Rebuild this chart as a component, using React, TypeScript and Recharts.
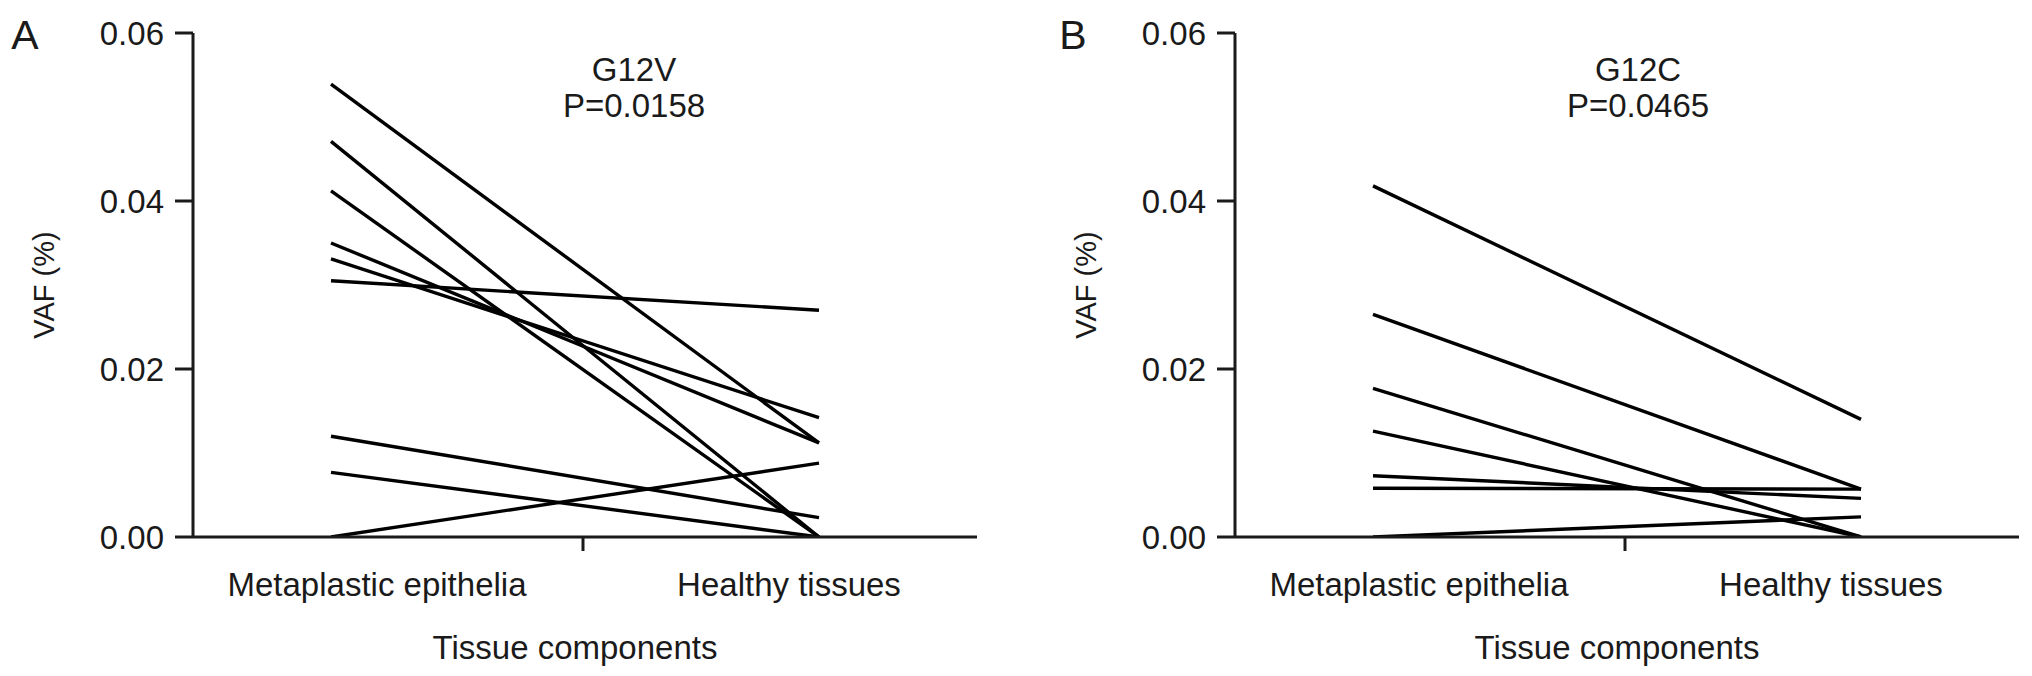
import React from 'react';
import { LineChart, Line, XAxis, YAxis, Label } from 'recharts';

const CATEGORIES = ['Metaplastic epithelia', 'Healthy tissues'];
const Y_TICKS = [0, 0.02, 0.04, 0.06];

const G12V_META = [0.0539, 0.0471, 0.0412, 0.035, 0.0331, 0.0305, 0.012, 0.0077, 0];
const G12V_HEALTHY = [0.0112, 0, 0, 0.0112, 0.0142, 0.027, 0.0023, 0, 0.0088];

const G12C_META = [0.0418, 0.0265, 0.0177, 0.0126, 0.0073, 0.0058, 0];
const G12C_HEALTHY = [0.014, 0.0057, 0, 0, 0.0046, 0.0057, 0.0024];

const FONT = '"Liberation Sans", Arial, Helvetica, sans-serif';
const INK = '#1a1a1a';

function buildRows(meta: number[], healthy: number[]) {
  return CATEGORIES.map((cat, i) => {
    const row: Record<string, any> = { cat };
    const src = i === 0 ? meta : healthy;
    src.forEach((v, j) => {
      row[`s${j}`] = v;
    });
    return row;
  });
}

const CategoryTick = (props: any) => {
  const { x, y, payload, index } = props;
  const dx = index === 0 ? 46 : -30;
  return (
    <g>
      {index === 0 && (
        <line x1={x + 252} x2={x + 252} y1={y} y2={y + 14} stroke={INK} strokeWidth={3} />
      )}
      <text
        x={x + dx}
        y={y + 59}
        textAnchor="middle"
        fontFamily={FONT}
        fontSize={33}
        fill={INK}
      >
        {payload.value}
      </text>
    </g>
  );
};

type PanelProps = {
  left: number;
  letter: string;
  titleX: number;
  mutation: string;
  pval: string;
  meta: number[];
  healthy: number[];
};

const Panel = ({ left, letter, titleX, mutation, pval, meta, healthy }: PanelProps) => {
  const rows = buildRows(meta, healthy);
  return (
    <div style={{ position: 'absolute', left, top: 0, width: 1000, height: 676 }}>
      <LineChart
        width={1000}
        height={676}
        data={rows}
        margin={{ top: 33, right: 23, bottom: 0, left: 0 }}
        style={{ fontFamily: FONT }}
      >
        <XAxis
          dataKey="cat"
          type="category"
          padding={{ left: 138, right: 158 }}
          height={139}
          axisLine={{ stroke: INK, strokeWidth: 3 }}
          tickLine={false}
          tickSize={0}
          tickMargin={0}
          tick={<CategoryTick />}
          interval={0}
        >
          <Label
            value="Tissue components"
            position="insideBottom"
            offset={17}
            dx={-10}
            style={{ fontFamily: FONT, fontSize: 33, fill: INK }}
          />
        </XAxis>
        <YAxis
          width={193}
          domain={[0, 0.06]}
          ticks={Y_TICKS}
          allowDataOverflow
          tickFormatter={(v: number) => v.toFixed(2)}
          axisLine={{ stroke: INK, strokeWidth: 3 }}
          tickLine={{ stroke: INK, strokeWidth: 3 }}
          tickSize={18}
          tickMargin={11}
          tick={{ fontFamily: FONT, fontSize: 33, fill: INK }}
        >
          <Label
            value="VAF (%)"
            angle={-90}
            position="center"
            dx={-53}
            style={{ fontFamily: FONT, fontSize: 29, fill: INK, textAnchor: 'middle' }}
          />
        </YAxis>
        {meta.map((_, j) => (
          <Line
            key={j}
            dataKey={`s${j}`}
            stroke="#000"
            strokeWidth={3.4}
            dot={false}
            activeDot={false}
            isAnimationActive={false}
            type="linear"
          />
        ))}
      </LineChart>
      <div
        style={{
          position: 'absolute',
          left: titleX - left,
          top: 52,
          transform: 'translateX(-50%)',
          textAlign: 'center',
          fontFamily: FONT,
          fontSize: 33,
          lineHeight: '36px',
          color: INK,
          whiteSpace: 'nowrap',
        }}
      >
        <div>{mutation}</div>
        <div>{pval}</div>
      </div>
      <div
        style={{
          position: 'absolute',
          left: (letter === 'A' ? 25 : 1073) - left,
          top: 35,
          transform: 'translate(-50%, -50%)',
          fontFamily: FONT,
          fontSize: 41,
          color: INK,
        }}
      >
        {letter}
      </div>
    </div>
  );
};

export default function App() {
  return (
    <div style={{ position: 'absolute', left: 0, top: 0, width: 2032, height: 676, background: '#fff' }}>
      <Panel
        left={0}
        letter="A"
        titleX={634}
        mutation="G12V"
        pval="P=0.0158"
        meta={G12V_META}
        healthy={G12V_HEALTHY}
      />
      <Panel
        left={1042}
        letter="B"
        titleX={1638}
        mutation="G12C"
        pval="P=0.0465"
        meta={G12C_META}
        healthy={G12C_HEALTHY}
      />
    </div>
  );
}
